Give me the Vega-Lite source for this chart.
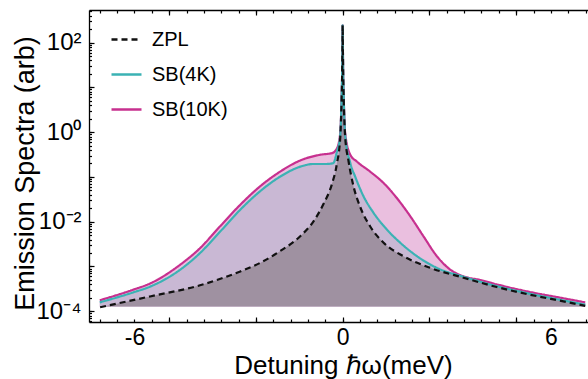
{
  "$schema": "https://vega.github.io/schema/vega-lite/v6.json",
  "width": 499,
  "height": 312,
  "autosize": {"type": "none"},
  "padding": {"left": 89, "top": 10, "right": 0, "bottom": 57},
  "background": "white",
  "view": {"stroke": null},
  "config": {
    "axis": {
      "labelFont": "Liberation Sans",
      "titleFont": "Liberation Sans",
      "labelColor": "black",
      "titleColor": "black",
      "domainColor": "black",
      "domainWidth": 1.3,
      "tickColor": "black",
      "tickWidth": 1.2,
      "grid": false,
      "titleFontWeight": "normal",
      "labelOverlap": false,
      "zindex": 1
    },
    "legend": {"labelFont": "Liberation Sans"}
  },
  "datasets": {
    "curves": [
      {"s": "SB(10K)", "x": -7.0, "y": 0.000176},
      {"s": "SB(10K)", "x": -6.04, "y": 0.000302},
      {"s": "SB(10K)", "x": -5.55, "y": 0.000417},
      {"s": "SB(10K)", "x": -4.68, "y": 0.0011},
      {"s": "SB(10K)", "x": -4.11, "y": 0.00257},
      {"s": "SB(10K)", "x": -3.53, "y": 0.00794},
      {"s": "SB(10K)", "x": -2.95, "y": 0.024},
      {"s": "SB(10K)", "x": -2.38, "y": 0.0617},
      {"s": "SB(10K)", "x": -1.8, "y": 0.132},
      {"s": "SB(10K)", "x": -1.22, "y": 0.234},
      {"s": "SB(10K)", "x": -0.65, "y": 0.313},
      {"s": "SB(10K)", "x": -0.31, "y": 0.341},
      {"s": "SB(10K)", "x": -0.17, "y": 0.427},
      {"s": "SB(10K)", "x": -0.07, "y": 0.955},
      {"s": "SB(10K)", "x": -0.03, "y": 6.31},
      {"s": "SB(10K)", "x": -0.015, "y": 19.95},
      {"s": "SB(10K)", "x": -0.005, "y": 100},
      {"s": "SB(10K)", "x": 0, "y": 245},
      {"s": "SB(10K)", "x": 0.005, "y": 100},
      {"s": "SB(10K)", "x": 0.015, "y": 19.95},
      {"s": "SB(10K)", "x": 0.03, "y": 6.31},
      {"s": "SB(10K)", "x": 0.07, "y": 1.0},
      {"s": "SB(10K)", "x": 0.22, "y": 0.313},
      {"s": "SB(10K)", "x": 0.41, "y": 0.221},
      {"s": "SB(10K)", "x": 0.79, "y": 0.132},
      {"s": "SB(10K)", "x": 1.18, "y": 0.0731},
      {"s": "SB(10K)", "x": 1.56, "y": 0.0338},
      {"s": "SB(10K)", "x": 1.95, "y": 0.0132},
      {"s": "SB(10K)", "x": 2.33, "y": 0.00471},
      {"s": "SB(10K)", "x": 2.72, "y": 0.00168},
      {"s": "SB(10K)", "x": 3.1, "y": 0.000851},
      {"s": "SB(10K)", "x": 3.48, "y": 0.000603},
      {"s": "SB(10K)", "x": 3.96, "y": 0.0005},
      {"s": "SB(10K)", "x": 4.44, "y": 0.000398},
      {"s": "SB(10K)", "x": 5.4, "y": 0.000269},
      {"s": "SB(10K)", "x": 6.36, "y": 0.000195},
      {"s": "SB(10K)", "x": 6.99, "y": 0.000158},

      {"s": "SB(4K)", "x": -7.0, "y": 0.000158},
      {"s": "SB(4K)", "x": -6.04, "y": 0.000263},
      {"s": "SB(4K)", "x": -5.55, "y": 0.000355},
      {"s": "SB(4K)", "x": -4.68, "y": 0.000851},
      {"s": "SB(4K)", "x": -4.11, "y": 0.002},
      {"s": "SB(4K)", "x": -3.53, "y": 0.00603},
      {"s": "SB(4K)", "x": -2.95, "y": 0.0186},
      {"s": "SB(4K)", "x": -2.38, "y": 0.0479},
      {"s": "SB(4K)", "x": -1.8, "y": 0.102},
      {"s": "SB(4K)", "x": -1.22, "y": 0.17},
      {"s": "SB(4K)", "x": -0.84, "y": 0.195},
      {"s": "SB(4K)", "x": -0.46, "y": 0.195},
      {"s": "SB(4K)", "x": -0.27, "y": 0.204},
      {"s": "SB(4K)", "x": -0.17, "y": 0.355},
      {"s": "SB(4K)", "x": -0.07, "y": 0.832},
      {"s": "SB(4K)", "x": -0.03, "y": 6.03},
      {"s": "SB(4K)", "x": -0.015, "y": 19.95},
      {"s": "SB(4K)", "x": -0.005, "y": 100},
      {"s": "SB(4K)", "x": 0, "y": 245},
      {"s": "SB(4K)", "x": 0.005, "y": 100},
      {"s": "SB(4K)", "x": 0.015, "y": 19.95},
      {"s": "SB(4K)", "x": 0.03, "y": 6.03},
      {"s": "SB(4K)", "x": 0.07, "y": 0.891},
      {"s": "SB(4K)", "x": 0.22, "y": 0.204},
      {"s": "SB(4K)", "x": 0.36, "y": 0.102},
      {"s": "SB(4K)", "x": 0.6, "y": 0.0372},
      {"s": "SB(4K)", "x": 0.89, "y": 0.0158},
      {"s": "SB(4K)", "x": 1.28, "y": 0.00661},
      {"s": "SB(4K)", "x": 1.66, "y": 0.00339},
      {"s": "SB(4K)", "x": 2.14, "y": 0.0017},
      {"s": "SB(4K)", "x": 2.71, "y": 0.000933},
      {"s": "SB(4K)", "x": 3.48, "y": 0.000589},
      {"s": "SB(4K)", "x": 4.44, "y": 0.000363},
      {"s": "SB(4K)", "x": 5.4, "y": 0.000245},
      {"s": "SB(4K)", "x": 6.36, "y": 0.000174},
      {"s": "SB(4K)", "x": 6.99, "y": 0.00014},

      {"s": "ZPL", "x": -6.99, "y": 0.000123},
      {"s": "ZPL", "x": -5.55, "y": 0.000214},
      {"s": "ZPL", "x": -4.11, "y": 0.00038},
      {"s": "ZPL", "x": -2.95, "y": 0.000776},
      {"s": "ZPL", "x": -2.38, "y": 0.0012},
      {"s": "ZPL", "x": -1.81, "y": 0.00219},
      {"s": "ZPL", "x": -1.23, "y": 0.00468},
      {"s": "ZPL", "x": -0.84, "y": 0.0102},
      {"s": "ZPL", "x": -0.55, "y": 0.0251},
      {"s": "ZPL", "x": -0.31, "y": 0.0692},
      {"s": "ZPL", "x": -0.17, "y": 0.191},
      {"s": "ZPL", "x": -0.07, "y": 0.759},
      {"s": "ZPL", "x": -0.03, "y": 5.62},
      {"s": "ZPL", "x": -0.015, "y": 19.95},
      {"s": "ZPL", "x": -0.005, "y": 100},
      {"s": "ZPL", "x": 0, "y": 245},
      {"s": "ZPL", "x": 0.005, "y": 100},
      {"s": "ZPL", "x": 0.015, "y": 19.95},
      {"s": "ZPL", "x": 0.03, "y": 5.62},
      {"s": "ZPL", "x": 0.07, "y": 0.832},
      {"s": "ZPL", "x": 0.17, "y": 0.224},
      {"s": "ZPL", "x": 0.31, "y": 0.0631},
      {"s": "ZPL", "x": 0.5, "y": 0.0219},
      {"s": "ZPL", "x": 0.79, "y": 0.00794},
      {"s": "ZPL", "x": 1.18, "y": 0.00339},
      {"s": "ZPL", "x": 1.75, "y": 0.0017},
      {"s": "ZPL", "x": 2.52, "y": 0.000933},
      {"s": "ZPL", "x": 3.48, "y": 0.000562},
      {"s": "ZPL", "x": 4.44, "y": 0.000347},
      {"s": "ZPL", "x": 5.4, "y": 0.000234},
      {"s": "ZPL", "x": 6.36, "y": 0.000166},
      {"s": "ZPL", "x": 6.99, "y": 0.000132}
    ]
  },
  "data": {"name": "curves"},
  "resolve": {"axis": {"x": "independent", "y": "independent"}},
  "layer": [
    {
      "transform": [{"filter": {"field": "s", "equal": "SB(10K)"}}],
      "mark": {"type": "area", "interpolate": "monotone", "color": "#eabfdf", "opacity": 1},
      "encoding": {
        "x": {
          "field": "x", "type": "quantitative",
          "scale": {"domain": [-7.31, 7.07], "nice": false, "zero": false},
          "axis": {
            "orient": "bottom",
            "values": [-7, -6.5, -6, -5.5, -5, -4.5, -4, -3.5, -3, -2.5, -2, -1.5, -1, -0.5, 0, 0.5, 1, 1.5, 2, 2.5, 3, 3.5, 4, 4.5, 5, 5.5, 6, 6.5, 7],
            "tickSize": -3,
            "labelExpr": "datum.value == -6 ? '-6' : datum.value == 0 ? '0' : datum.value == 6 ? '6' : ''",
            "labelFontSize": 23,
            "labelPadding": 7,
            "title": "Detuning ℏω(meV)",
            "titleFontSize": 26,
            "titleX": 254,
            "titleY": 51,
            "titleAlign": "center",
            "titleBaseline": "alphabetic"
          }
        },
        "y": {
          "field": "y", "type": "quantitative",
          "scale": {"type": "log", "domain": [0.0000575, 537], "nice": false},
          "axis": {
            "orient": "left",
            "values": [0.00006, 0.00007, 0.00008, 0.00009, 0.0001, 0.0002, 0.0003, 0.0004, 0.0005, 0.0006, 0.0007, 0.0008, 0.0009, 0.001, 0.002, 0.003, 0.004, 0.005, 0.006, 0.007, 0.008, 0.009, 0.01, 0.02, 0.03, 0.04, 0.05, 0.06, 0.07, 0.08, 0.09, 0.1, 0.2, 0.3, 0.4, 0.5, 0.6, 0.7, 0.8, 0.9, 1, 2, 3, 4, 5, 6, 7, 8, 9, 10, 20, 30, 40, 50, 60, 70, 80, 90, 100, 200, 300, 400, 500],
            "tickSize": -2.5,
            "labelExpr": "abs(log(datum.value) / LN10 - round(log(datum.value) / LN10)) > 0.001 ? '' : round(log(datum.value) / LN10) == 2 ? '10²' : round(log(datum.value) / LN10) == 0 ? '10⁰' : round(log(datum.value) / LN10) == -2 ? '10⁻²' : round(log(datum.value) / LN10) == -4 ? '10⁻⁴' : ''",
            "labelFontSize": 24,
            "labelPadding": 10.5,
            "title": "Emission Spectra (arb)",
            "titleFontSize": 27,
            "titleX": -56,
            "titleY": 163,
            "titleAngle": 270,
            "titleAlign": "center",
            "titleBaseline": "alphabetic"
          }
        },
        "y2": {"datum": 0.000127}
      }
    },
    {
      "transform": [{"filter": {"field": "s", "equal": "SB(4K)"}}],
      "mark": {"type": "area", "interpolate": "monotone", "color": "#c9b8d4", "opacity": 1},
      "encoding": {
        "x": {
          "field": "x", "type": "quantitative",
          "axis": {"orient": "bottom", "values": [-5, -2.5, 0, 2.5, 5], "tickSize": -5, "labels": false, "domain": false, "title": null}
        },
        "y": {
          "field": "y", "type": "quantitative",
          "axis": {"orient": "left", "values": [0.0001, 0.001, 0.01, 0.1, 1, 10, 100], "tickSize": -5, "labels": false, "domain": false, "title": null}
        },
        "y2": {"datum": 0.000127}
      }
    },
    {
      "transform": [{"filter": {"field": "s", "equal": "ZPL"}}],
      "mark": {"type": "area", "interpolate": "monotone", "color": "#9f91a1", "opacity": 1},
      "encoding": {
        "x": {
          "field": "x", "type": "quantitative",
          "axis": {
            "orient": "top",
            "values": [-7, -6.5, -6, -5.5, -5, -4.5, -4, -3.5, -3, -2.5, -2, -1.5, -1, -0.5, 0, 0.5, 1, 1.5, 2, 2.5, 3, 3.5, 4, 4.5, 5, 5.5, 6, 6.5, 7],
            "tickSize": -3,
            "labels": false,
            "title": null
          }
        },
        "y": {"field": "y", "type": "quantitative", "axis": null},
        "y2": {"datum": 0.000127}
      }
    },
    {
      "mark": {"type": "line", "interpolate": "monotone", "strokeWidth": 2.2},
      "encoding": {
        "x": {
          "field": "x", "type": "quantitative",
          "axis": {"orient": "top", "values": [-5, -2.5, 0, 2.5, 5], "tickSize": -5, "labels": false, "domain": false, "title": null}
        },
        "y": {"field": "y", "type": "quantitative", "axis": null},
        "stroke": {
          "field": "s", "type": "nominal",
          "scale": {"domain": ["ZPL", "SB(4K)", "SB(10K)"], "range": ["#111111", "#3bb2b4", "#c7308f"]},
          "legend": {
            "orient": "none", "legendX": 21, "legendY": 13, "title": null, "padding": 0,
            "symbolType": "stroke", "symbolSize": 900, "symbolStrokeWidth": 2.5,
            "labelFontSize": 20, "labelOffset": 9, "rowPadding": 8, "labelColor": "black"
          }
        },
        "strokeDash": {
          "field": "s", "type": "nominal",
          "scale": {"domain": ["ZPL", "SB(4K)", "SB(10K)"], "range": [[6, 4], [1, 0], [1, 0]]},
          "legend": {
            "orient": "none", "legendX": 21, "legendY": 13, "title": null, "padding": 0,
            "symbolType": "stroke", "symbolSize": 900, "symbolStrokeWidth": 2.5,
            "labelFontSize": 20, "labelOffset": 9, "rowPadding": 8, "labelColor": "black"
          }
        }
      }
    }
  ]
}
